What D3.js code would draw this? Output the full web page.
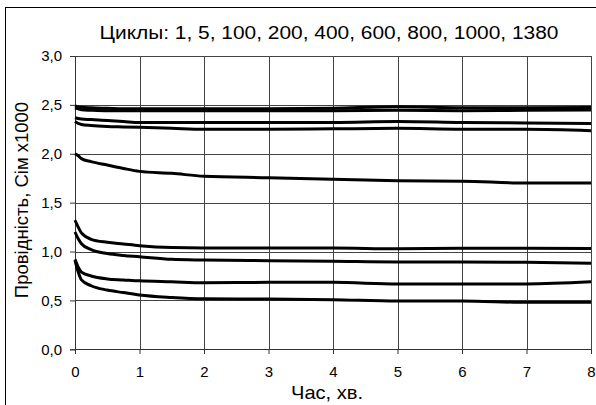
<!DOCTYPE html>
<html>
<head>
<meta charset="utf-8">
<script src="https://cdn.jsdelivr.net/npm/d3@7"></script>
<style>
  body { margin: 0; background: #fff; }
  text { font-family: "Liberation Sans", Arial, sans-serif; fill: #000; }
</style>
</head>
<body>
<script>
(function(){

//chart data
var timePoints = [0, 0.05, 0.1, 0.25, 0.5, 0.75, 1, 1.5, 2, 3, 4, 5, 6, 7, 8]; //minutes
var cycles = ["1", "5", "100", "200", "400", "600", "800", "1000", "1380"];
var seriesA = [2.49, 2.48, 2.475, 2.47, 2.465, 2.46, 2.46, 2.46, 2.46, 2.46, 2.465, 2.48, 2.47, 2.47, 2.472];
var seriesB = [2.47, 2.46, 2.45, 2.445, 2.44, 2.44, 2.44, 2.44, 2.44, 2.44, 2.44, 2.445, 2.44, 2.445, 2.447];
var seriesC = [2.37, 2.36, 2.355, 2.35, 2.34, 2.33, 2.32, 2.32, 2.32, 2.32, 2.32, 2.33, 2.32, 2.315, 2.31];
var seriesD = [2.33, 2.31, 2.30, 2.29, 2.28, 2.275, 2.27, 2.26, 2.25, 2.25, 2.255, 2.26, 2.25, 2.25, 2.235];
var seriesE = [2.0, 1.98, 1.95, 1.92, 1.885, 1.85, 1.82, 1.80, 1.77, 1.755, 1.74, 1.725, 1.72, 1.70, 1.70];
var seriesF = [1.32, 1.25, 1.19, 1.125, 1.094, 1.077, 1.06, 1.04, 1.035, 1.035, 1.035, 1.028, 1.033, 1.033, 1.03];
var seriesG = [1.20, 1.13, 1.08, 1.02, 0.98, 0.96, 0.947, 0.92, 0.913, 0.906, 0.90, 0.893, 0.893, 0.89, 0.88];
var seriesH = [0.92, 0.84, 0.79, 0.75, 0.72, 0.71, 0.70, 0.69, 0.68, 0.685, 0.685, 0.668, 0.668, 0.668, 0.69];
var seriesI = [0.91, 0.79, 0.71, 0.65, 0.606, 0.58, 0.555, 0.53, 0.517, 0.514, 0.507, 0.494, 0.494, 0.48, 0.48];
var xTicks = [0, 1, 2, 3, 4, 5, 6, 7, 8];
var yTicks = [0, 0.5, 1, 1.5, 2, 2.5, 3];

var allSeries = [seriesA, seriesB, seriesC, seriesD, seriesE, seriesF, seriesG, seriesH, seriesI];

var width = 596,
    height = 405,
    left = 75,
    right = 591,
    top = 56,
    bottom = 349.3;

var svg = d3.select("body")
    .append("svg")
    .attr("width", width)
    .attr("height", height);

//outer chart frame (right and bottom run off the picture)
svg.append("rect")
    .attr("x", 5.5)
    .attr("y", 7.5)
    .attr("width", 620)
    .attr("height", 420)
    .attr("fill", "none")
    .attr("stroke", "#000")
    .attr("stroke-width", 1);

var x = d3.scaleLinear().domain([0, 8]).range([left, right]);
var y = d3.scaleLinear().domain([0, 3]).range([bottom, top]);

//grid lines
svg.selectAll(".hgrid")
    .data(yTicks)
    .enter()
    .append("line")
    .attr("class", "hgrid")
    .attr("x1", left)
    .attr("x2", right)
    .attr("y1", function(d){ return Math.round(y(d)) + 0.5; })
    .attr("y2", function(d){ return Math.round(y(d)) + 0.5; })
    .attr("stroke", "#444");

svg.selectAll(".vgrid")
    .data(xTicks)
    .enter()
    .append("line")
    .attr("class", "vgrid")
    .attr("y1", top)
    .attr("y2", bottom)
    .attr("x1", function(d){ return Math.round(x(d)) + 0.5; })
    .attr("x2", function(d){ return Math.round(x(d)) + 0.5; })
    .attr("stroke", "#444");

//axes
var xAxis = d3.axisBottom(x)
    .tickValues(xTicks)
    .tickSize(5)
    .tickPadding(12)
    .tickFormat(d3.format("d"));

var yAxis = d3.axisLeft(y)
    .tickValues(yTicks)
    .tickSize(5)
    .tickPadding(8)
    .tickFormat(function(d){ return d3.format(".1f")(d).replace(".", ","); });

var gx = svg.append("g")
    .attr("transform", "translate(0," + Math.round(bottom) + ")")
    .call(xAxis);

var gy = svg.append("g")
    .attr("transform", "translate(" + left + ",0)")
    .call(yAxis);

[gx, gy].forEach(function(g){
    g.selectAll("path").attr("stroke", "#333");
    g.selectAll("line").attr("stroke", "#333");
    g.selectAll("text")
        .style("font-family", "'Liberation Sans', Arial, sans-serif")
        .style("font-size", "15px")
        .attr("fill", "#000");
});

//series lines
var line = d3.line()
    .x(function(d, i){ return x(timePoints[i]); })
    .y(function(d){ return y(d); })
    .curve(d3.curveMonotoneX);

svg.selectAll(".series")
    .data(allSeries)
    .enter()
    .append("path")
    .attr("class", "series")
    .attr("d", line)
    .attr("fill", "none")
    .attr("stroke", "#000")
    .attr("stroke-width", 3);

//title
svg.append("text")
    .attr("x", 329)
    .attr("y", 39)
    .attr("text-anchor", "middle")
    .attr("textLength", 459)
    .attr("lengthAdjust", "spacingAndGlyphs")
    .style("font-size", "17.5px")
    .text("Циклы: " + cycles.join(", "));

//axis titles
svg.append("text")
    .attr("x", 327)
    .attr("y", 399)
    .attr("text-anchor", "middle")
    .attr("textLength", 72)
    .attr("lengthAdjust", "spacingAndGlyphs")
    .style("font-size", "18.5px")
    .text("Час, хв.");

svg.append("text")
    .attr("transform", "translate(28,200) rotate(-90)")
    .attr("text-anchor", "middle")
    .style("font-size", "18.5px")
    .text("Провідність, Сім x1000");

})();
</script>
</body>
</html>
